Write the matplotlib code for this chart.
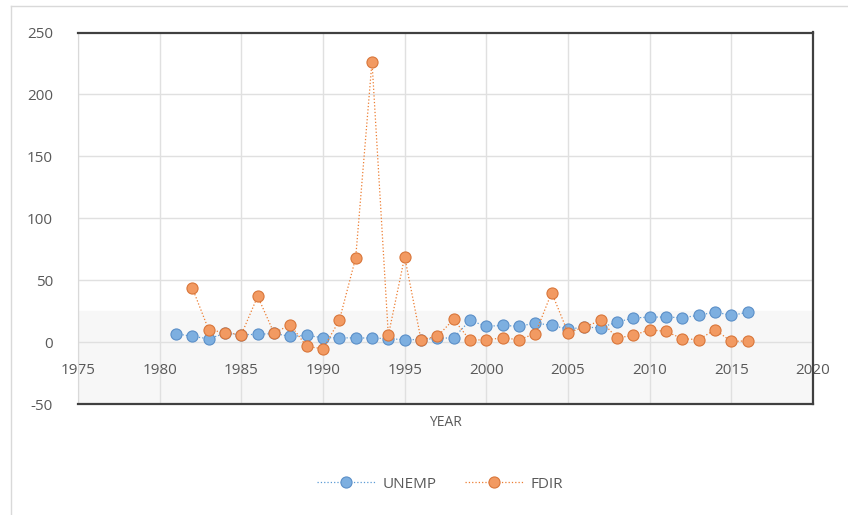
import numpy as np
import matplotlib
matplotlib.use("Agg")
import matplotlib.pyplot as plt
from matplotlib.lines import Line2D

# datos
years_unemp = np.arange(1981, 2017)
unemp = [6.8, 4.6, 2.7, 7.0, 6.0, 6.2, 7.0, 4.6, 5.4, 3.5, 3.5, 3.3, 3.3, 2.7, 2.0, 2.0,
         3.0, 3.5, 17.5, 12.7, 13.5, 12.7, 15.4, 13.5, 10.5, 12.0, 11.6, 16.2, 19.4, 20.2,
         20.2, 19.7, 21.6, 24.3, 21.6, 24.0]

years_fdir = np.arange(1982, 2017)
fdir = [43.7, 10.0, 7.6, 6.0, 37.0, 7.3, 14.0, -3.5, -5.4, 17.5, 68.0, 226.5, 5.4, 68.8,
        2.0, 4.6, 18.4, 1.4, 2.0, 3.3, 2.0, 6.8, 40.0, 7.6, 12.1, 17.5, 3.3, 5.4, 10.0,
        8.6, 2.7, 2.0, 10.0, 0.5, 1.0]

xticks = [1975, 1980, 1985, 1990, 1995, 2000, 2005, 2010, 2015, 2020]
yticks = [-50, 0, 50, 100, 150, 200, 250]

plt.rcParams['font.family'] = ['Open Sans', 'DejaVu Sans']
plt.rcParams['axes.unicode_minus'] = False

blue = "#5B9BD5"
orange = "#ED7D31"
txt = "#595959"

fig = plt.figure(figsize=(8.48, 5.15), dpi=100)
ax = fig.add_axes([78/848, 1 - 404/515, (813 - 78)/848, (404 - 32.5)/515])

# faint shading near the bottom, like the original
ax.axhspan(-50, 25, color="#f7f7f7", zorder=0)

ax.plot(years_unemp, unemp, linestyle=":", linewidth=0.9, color=blue, marker="o",
        markersize=8, markerfacecolor="#7DAFE0", markeredgecolor="#5B8FC8",
        markeredgewidth=0.8, label="UNEMP", zorder=3)
ax.plot(years_fdir, fdir, linestyle=":", linewidth=0.9, color=orange, marker="o",
        markersize=8, markerfacecolor="#F29A62", markeredgecolor="#D9763A",
        markeredgewidth=0.8, label="FDIR", zorder=4)

ax.set_xlim(1975, 2020)
ax.set_ylim(-50, 250)
ax.set_xticks(xticks)
ax.set_yticks(yticks)
ax.grid(True, color="#e0e0e0", linewidth=1.0, zorder=1)
ax.set_axisbelow(True)

# x axis labels sit at y = 0
ax.spines['bottom'].set_position(('data', 0))
ax.spines['bottom'].set_visible(False)
ax.spines['left'].set_color("#d9d9d9")
for s in ['top', 'right']:
    ax.spines[s].set_color("#404040")
    ax.spines[s].set_linewidth(1.6)
ax.plot([0, 1], [0, 0], transform=ax.transAxes, color="#404040", linewidth=1.6,
        clip_on=False, zorder=5)

ax.tick_params(axis='x', length=0, pad=15, labelsize=11, labelcolor=txt)
ax.tick_params(axis='y', length=0, pad=18, labelsize=11, labelcolor=txt)

fig.text(445/848, 1 - 422/515, "YEAR", ha="center", va="center", fontsize=10, color=txt)

fig.legend(loc="center", bbox_to_anchor=(440/848, 1 - 484/515), ncol=2, frameon=False,
           fontsize=11, labelcolor=txt, handlelength=3.8, columnspacing=1.8,
           handletextpad=0.5)

# chart border (light)
fig.add_artist(Line2D([11/848, 11/848], [0, 1 - 6/515], color="#d9d9d9", linewidth=1))
fig.add_artist(Line2D([11/848, 1], [1 - 6/515, 1 - 6/515], color="#d9d9d9", linewidth=1))

fig.savefig("out.png", dpi=100)
